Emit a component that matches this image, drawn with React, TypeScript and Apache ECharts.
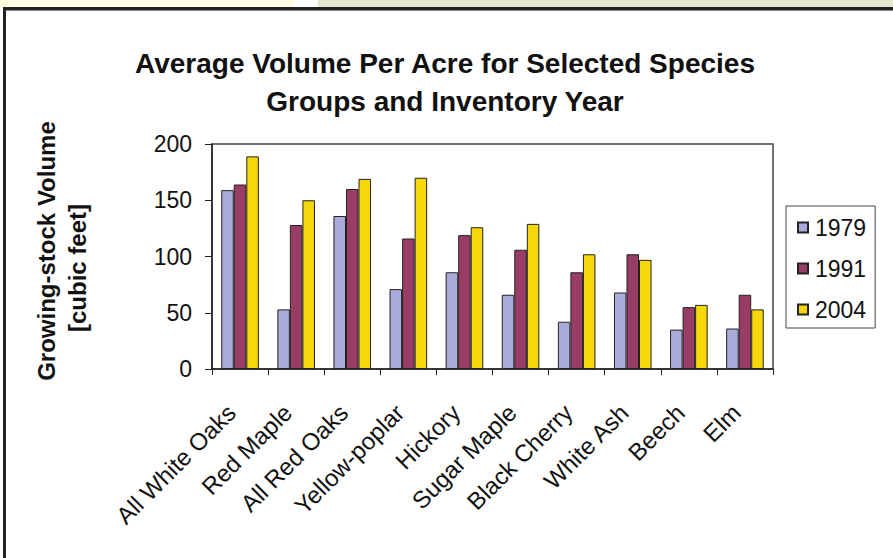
import React, { useEffect, useRef } from "react";
import * as echarts from "echarts";

const categories = [
  "All White Oaks",
  "Red Maple",
  "All Red Oaks",
  "Yellow-poplar",
  "Hickory",
  "Sugar Maple",
  "Black Cherry",
  "White Ash",
  "Beech",
  "Elm",
];
const years = ["1979", "1991", "2004"];
const v1979 = [159, 53, 136, 71, 86, 66, 42, 68, 35, 36];
const v1991 = [164, 128, 160, 116, 119, 106, 86, 102, 55, 66];
const v2004 = [189, 150, 169, 170, 126, 129, 102, 97, 57, 53];
const yTicks = { min: 0, max: 200, interval: 50 };
const titleLines = ["Average Volume Per Acre for Selected Species", "Groups and Inventory Year"];
const yNameLines = ["Growing-stock Volume", "[cubic feet]"];

const colors = ["#aaaadb", "#993d66", "#f6d70a"];
const FONT = "'Liberation Sans', Arial, sans-serif";

export default function App() {
  const ref = useRef<HTMLDivElement>(null);
  useEffect(() => {
    if (!ref.current) return;
    const chart = echarts.init(ref.current, undefined, { renderer: "svg" });
    const seriesData = [v1979, v1991, v2004];
    chart.setOption({
      animation: false,
      backgroundColor: "#ffffff",
      textStyle: { fontFamily: FONT },
      title: {
        text: titleLines.join("\n"),
        left: 440,
        top: 39,
        textAlign: "center",
        textStyle: {
          fontFamily: FONT,
          fontSize: 28,
          fontWeight: "bold",
          color: "#111",
          lineHeight: 38,
        },
      },
      graphic: [
        { type: "rect", shape: { x: 0, y: 0, width: 293, height: 8 }, style: { fill: "#fffbe3" }, silent: true },
        { type: "rect", shape: { x: 318, y: 0, width: 575, height: 8 }, style: { fill: "#e6e7d0" }, silent: true },
        { type: "rect", shape: { x: 3, y: 7, width: 893, height: 3 }, style: { fill: "#222" }, silent: true },
        { type: "rect", shape: { x: 6, y: 10, width: 890, height: 1 }, style: { fill: "#888" }, silent: true },
        { type: "rect", shape: { x: 3, y: 7, width: 3, height: 560 }, style: { fill: "#222" }, silent: true },
        {
          type: "text",
          x: 46,
          y: 251,
          rotation: Math.PI / 2,
          style: {
            text: yNameLines[0],
            font: `bold 24px ${FONT}`,
            fill: "#111",
            align: "center",
            verticalAlign: "middle",
          },
        },
        {
          type: "text",
          x: 77,
          y: 268,
          rotation: Math.PI / 2,
          style: {
            text: yNameLines[1],
            font: `bold 24px ${FONT}`,
            fill: "#111",
            align: "center",
            verticalAlign: "middle",
          },
        },
      ],
      legend: {
        orient: "vertical",
        left: 786,
        top: 206,
        data: years,
        itemWidth: 10,
        itemHeight: 10,
        itemGap: 18,
        icon: "rect",
        padding: [10, 9, 7, 11],
        borderColor: "#444",
        borderWidth: 1,
        textStyle: { fontFamily: FONT, fontSize: 23, color: "#111", padding: [0, 0, 0, 2] },
      },
      grid: {
        left: 212,
        top: 144,
        width: 561,
        height: 225,
        show: true,
        borderColor: "#444",
        borderWidth: 1.5,
        backgroundColor: "#fff",
      },
      xAxis: {
        type: "category",
        data: categories,
        axisLine: { lineStyle: { color: "#222", width: 1.5 } },
        axisTick: { show: true, length: 6, lineStyle: { color: "#222" } },
        axisLabel: {
          rotate: 45,
          margin: 31,
          fontSize: 24,
          color: "#111",
          fontFamily: FONT,
          padding: [0, 12, 6, 0],
        },
      },
      yAxis: {
        type: "value",
        min: yTicks.min,
        max: yTicks.max,
        interval: yTicks.interval,
        splitLine: { show: false },
        axisLine: { show: true, lineStyle: { color: "#222", width: 1.5 } },
        axisTick: { show: true, length: 7, lineStyle: { color: "#222" } },
        axisLabel: { margin: 20, fontSize: 23, color: "#111", fontFamily: FONT },
      },
      series: years.map((y, i) => ({
        name: y,
        type: "bar",
        data: seriesData[i],
        barGap: "0%",
        barCategoryGap: "33%",
        itemStyle: { color: colors[i], borderColor: "#222", borderWidth: 1 },
      })),
    });
    return () => chart.dispose();
  }, []);
  return (
    <div
      ref={ref}
      style={{ position: "absolute", left: 0, top: 0, width: 893, height: 558 }}
    />
  );
}
